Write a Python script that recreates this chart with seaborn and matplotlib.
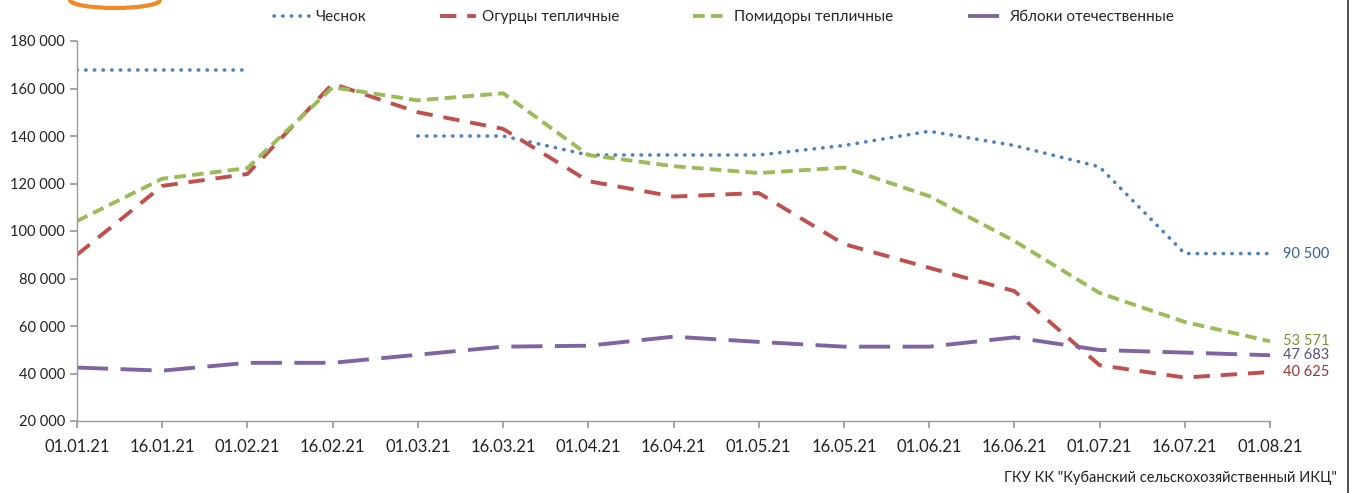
import matplotlib.pyplot as plt
import matplotlib.lines as mlines
import matplotlib.patches as mpatches
import numpy as np
import pandas as pd
import seaborn as sns

dates = ["01.01.21", "16.01.21", "01.02.21", "16.02.21", "01.03.21", "16.03.21",
         "01.04.21", "16.04.21", "01.05.21", "16.05.21", "01.06.21", "16.06.21",
         "01.07.21", "16.07.21", "01.08.21"]

garlic = [168000, 168000, 168000, np.nan, 140000, 140000, 132000, 132000, 132000,
          136000, 142000, 136000, 127000, 90500, 90500]
cucumbers = [90000, 119000, 124000, 162000, 150000, 143000, 121000, 114500, 116000,
             94500, 84500, 74700, 43500, 38300, 40625]
tomatoes = [104200, 122000, 126500, 160500, 155000, 158000, 132000, 127300, 124400,
            126700, 114700, 95800, 73900, 61700, 53571]
apples = [42500, 41200, 44500, 44500, 47900, 51300, 51700, 55500, 53300, 51300,
          51300, 55200, 49900, 48800, 47683]

names = ["Чеснок", "Огурцы тепличные", "Помидоры тепличные", "Яблоки отечественные"]
last_labels = ["90 500", "40 625", "53 571", "47 683"]

sns.set_theme(style="white")
plt.rcParams["font.family"] = ["Lato", "DejaVu Sans"]

colors = ["#4F81BD", "#C0504D", "#9BBB59", "#8064A2"]
label_colors = ["#376092", "#953735", "#77933C", "#604A7B"]
styles = [dict(linestyle=(0, (0.1, 2.3)), linewidth=2.6, dash_capstyle="round"),
          dict(linestyle=(0, (4.2, 2.8)), linewidth=2.8),
          dict(linestyle=(0, (3.0, 1.6)), linewidth=2.8),
          dict(linestyle=(0, (8.0, 3.2)), linewidth=2.8)]

x = np.arange(len(dates))
fig = plt.figure(figsize=(13.54, 4.93), dpi=100)
ax = fig.add_axes([77 / 1354, 1 - 421 / 493, (1270 - 77) / 1354, 380 / 493])

series = [garlic, cucumbers, tomatoes, apples]
handles = []
for name, vals, col, st in zip(names, series, colors, styles):
    df = pd.DataFrame({"x": x, "y": vals})
    # split on gaps so seaborn doesn't bridge them
    seg = df["y"].isna().cumsum()
    for _, part in df[df["y"].notna()].groupby(seg[df["y"].notna()]):
        sns.lineplot(data=part, x="x", y="y", ax=ax, color=col, **st)
    handles.append(mlines.Line2D([], [], color=col, **st))

for vals, lab, col in zip(series, last_labels, label_colors):
    ax.annotate(lab, (x[-1], vals[-1]), xytext=(9.5, 0), textcoords="offset points",
                va="center", ha="left", color=col, fontsize=10.5, annotation_clip=False)

ax.set_xlim(0, 14)
ax.set_ylim(20000, 180000)
ax.set_xticks(x)
ax.set_xticklabels(dates, fontsize=12, color="#222222")
ax.set_yticks(range(20000, 180001, 20000))
ax.set_yticklabels([f"{v:,}".replace(",", " ") for v in range(20000, 180001, 20000)],
                   fontsize=10.5, color="#222222")
ax.set_xlabel("")
ax.set_ylabel("")
for s in ["top", "right"]:
    ax.spines[s].set_visible(False)
for s in ["left", "bottom"]:
    ax.spines[s].set_color("#999999")
    ax.spines[s].set_linewidth(1)
ax.tick_params(axis="both", which="major", length=5, color="#999999", direction="out",
               left=True, bottom=True)
ax.tick_params(axis="x", pad=8)

fig.legend(handles, names, loc="center", ncol=4, frameon=False, fontsize=11,
           bbox_to_anchor=(724 / 1354, 1 - 17 / 493), handlelength=2.3,
           columnspacing=4.85, handletextpad=0.4)

fig.text(1337 / 1354, 1 - 478 / 493, 'ГКУ КК "Кубанский сельскохозяйственный ИКЦ"',
         ha="right", va="center", fontsize=10.5, color="#222222")

# right frame edge and partial logo at top-left
fig.add_artist(mlines.Line2D([1348 / 1354, 1348 / 1354], [0, 1], color="#333333",
                             linewidth=1.2, transform=fig.transFigure))
fig.add_artist(mpatches.Arc((115 / 1354, 1 - 0 / 493), 90 / 1354, 16 / 493,
                            theta1=180, theta2=360, color="#F08A24", linewidth=3,
                            transform=fig.transFigure))

fig.savefig("out.png", dpi=100)
